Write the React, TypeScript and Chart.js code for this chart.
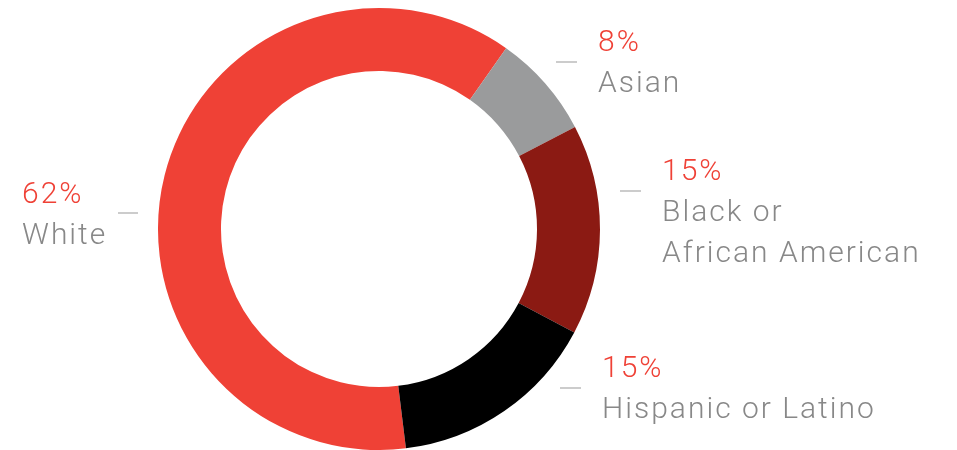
import React, { useEffect, useRef } from "react";
import { Chart, registerables } from "chart.js";

Chart.register(...registerables);

const categories = ["White", "Asian", "Black or African American", "Hispanic or Latino"];
const shares = [61.7, 7.6, 15.4, 15.3];
const pctLabels = ["62%", "8%", "15%", "15%"];
const nameLines = [["White"], ["Asian"], ["Black or", "African American"], ["Hispanic or Latino"]];
const colors = ["#ef4136", "#9a9b9c", "#8b1a13", "#000000"];

// label layout: text x, first baseline, dash x1, x2, dash y
const labelLayout = [
  { x: 22, y: 203, dx1: 118, dx2: 138, dy: 213 },
  { x: 598, y: 51, dx1: 556, dx2: 577, dy: 62 },
  { x: 662, y: 180, dx1: 620, dx2: 641, dy: 191 },
  { x: 602, y: 377, dx1: 560, dx2: 581, dy: 388 },
];

const FONT = "300 30px Roboto, 'Noto Sans', sans-serif";

const labelPlugin = {
  id: "sideLabels",
  afterDraw(chart: any) {
    const ctx = chart.ctx;
    ctx.save();
    ctx.textBaseline = "alphabetic";
    ctx.textAlign = "left";
    ctx.font = FONT;
    ctx.letterSpacing = "2px";
    labelLayout.forEach((l, i) => {
      ctx.fillStyle = "#ef4136";
      ctx.fillText(pctLabels[i], l.x, l.y);
      ctx.fillStyle = "#888888";
      nameLines[i].forEach((line, j) => {
        ctx.fillText(line, l.x, l.y + 41 * (j + 1));
      });
      ctx.strokeStyle = "#cccccc";
      ctx.lineWidth = 2;
      ctx.beginPath();
      ctx.moveTo(l.dx1, l.dy);
      ctx.lineTo(l.dx2, l.dy);
      ctx.stroke();
    });
    ctx.restore();
  },
};

export default function App() {
  const ref = useRef<HTMLCanvasElement>(null);
  useEffect(() => {
    document.body.style.margin = "0";
    const chart = new Chart(ref.current!, {
      type: "doughnut",
      data: {
        labels: categories,
        datasets: [
          {
            data: shares,
            backgroundColor: colors,
            borderWidth: 0,
          },
        ],
      },
      options: {
        responsive: false,
        animation: false,
        rotation: 173,
        cutout: "71.5%",
        layout: { padding: { left: 158, right: 357, top: 8, bottom: 0 } },
        plugins: {
          legend: { display: false },
          tooltip: { enabled: false },
        },
      },
      plugins: [labelPlugin],
    });
    return () => chart.destroy();
  }, []);
  return (
    <div style={{ width: 957, height: 450 }}>
      <canvas ref={ref} width={957} height={450} style={{ display: "block" }} />
    </div>
  );
}
